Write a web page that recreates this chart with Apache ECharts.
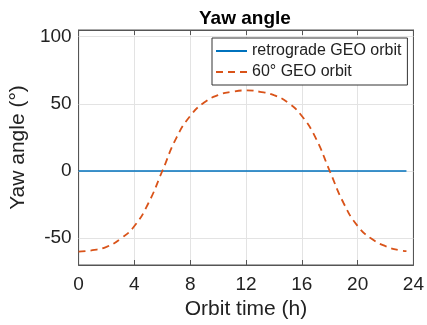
<!DOCTYPE html>
<html>
<head>
<meta charset="utf-8">
<script src="https://cdn.jsdelivr.net/npm/echarts@6/dist/echarts.min.js"></script>
<style>
  html, body { margin: 0; padding: 0; background: #fff; }
  #chart { width: 427px; height: 325px; }
</style>
</head>
<body>
<div id="chart"></div>
<script>
// orbit time in hours
var times = [0, 1, 2, 3, 4, 5, 6, 7, 8, 9, 10, 11, 12, 13, 14, 15, 16, 17, 18, 19, 20, 21, 22, 23, 23.5];
var retrograde = [0, 0, 0, 0, 0, 0, 0, 0, 0, 0, 0, 0, 0, 0, 0, 0, 0, 0, 0, 0, 0, 0, 0, 0, 0];
var geo60 = [-60, -59, -56.5, -50.5, -41, -24, 0, 24.5, 41, 51, 56.5, 59, 60, 59, 56.5, 51, 41, 24.5, 0, -24, -41, -50.5, -56, -59, -59.7];
var xTicks = [0, 4, 8, 12, 16, 20, 24];
var yTicks = [-50, 0, 50, 100];

var font = "'Liberation Sans', Arial, Helvetica, sans-serif";
var axisColor = '#555';
var textColor = '#222';
var gridColor = '#e3e3e3';

function pairs(ys) {
  return times.map(function (t, i) { return [t, ys[i]]; });
}

var chart = echarts.init(document.getElementById('chart'));
chart.setOption({
  animation: false,
  title: {
    text: 'Yaw angle',
    left: 194,
    top: 4,
    textStyle: { fontFamily: font, fontSize: 19, fontWeight: 'bold', color: '#000' }
  },
  grid: { left: 72.5, right: 10, top: 30, bottom: 55.5, show: true, borderColor: axisColor, borderWidth: 1 },
  legend: {
    data: ['retrograde GEO orbit', '60° GEO orbit'],
    orient: 'vertical',
    left: 212,
    top: 38,
    padding: [4, 6, 4, 3],
    itemGap: 3,
    itemWidth: 31,
    itemHeight: 14,
    borderColor: '#333',
    borderWidth: 1,
    backgroundColor: '#fff',
    itemStyle: { opacity: 0 },
    textStyle: { fontFamily: font, fontSize: 16, color: textColor, lineHeight: 18 }
  },
  xAxis: [{
    type: 'value',
    min: 0, max: 24, interval: 4,
    name: 'Orbit time (h)',
    nameLocation: 'middle',
    nameGap: 34,
    nameTextStyle: { fontFamily: font, fontSize: 21, color: textColor },
    axisLine: { show: true, onZero: false, lineStyle: { color: axisColor } },
    axisTick: { inside: true, length: 5, lineStyle: { color: axisColor } },
    axisLabel: { fontFamily: font, fontSize: 19, color: textColor, margin: 10,
      customValues: xTicks },
    splitLine: { show: true, lineStyle: { color: gridColor } }
  }, {
    type: 'value',
    position: 'top',
    min: 0, max: 24, interval: 4,
    axisLine: { show: true, onZero: false, lineStyle: { color: axisColor } },
    axisTick: { inside: true, length: 5, lineStyle: { color: axisColor } },
    axisLabel: { show: false },
    splitLine: { show: false }
  }],
  yAxis: [{
    type: 'value',
    min: -70, max: 105,
    name: 'Yaw angle (°)',
    nameLocation: 'middle',
    nameGap: 45,
    nameTextStyle: { fontFamily: font, fontSize: 21, color: textColor },
    axisLine: { show: true, onZero: false, lineStyle: { color: axisColor } },
    axisTick: { inside: true, length: 5, customValues: yTicks, lineStyle: { color: axisColor } },
    axisLabel: { fontFamily: font, fontSize: 19, color: textColor, margin: 7, customValues: yTicks },
    splitLine: { show: false }
  }, {
    type: 'value',
    position: 'right',
    min: -70, max: 105,
    axisLine: { show: true, onZero: false, lineStyle: { color: axisColor } },
    axisTick: { inside: true, length: 5, customValues: yTicks, lineStyle: { color: axisColor } },
    axisLabel: { show: false },
    splitLine: { show: false }
  }],
  series: [
    {
      name: 'grid',
      type: 'line',
      data: [],
      z: 1,
      silent: true,
      markLine: {
        silent: true,
        symbol: 'none',
        z: 1,
        label: { show: false },
        lineStyle: { color: gridColor, type: 'solid', width: 1 },
        data: yTicks.map(function (v) { return { yAxis: v }; })
      }
    },
    {
      name: 'retrograde GEO orbit',
      type: 'line',
      data: pairs(retrograde),
      symbol: 'none',
      z: 3,
      lineStyle: { color: '#0072BD', width: 1.7 },
      itemStyle: { color: '#0072BD' }
    },
    {
      name: '60° GEO orbit',
      type: 'line',
      data: pairs(geo60),
      symbol: 'none',
      smooth: true,
      z: 3,
      lineStyle: { color: '#D95319', width: 1.8, type: [7, 5] },
      itemStyle: { color: '#D95319' }
    }
  ]
});
</script>
</body>
</html>
